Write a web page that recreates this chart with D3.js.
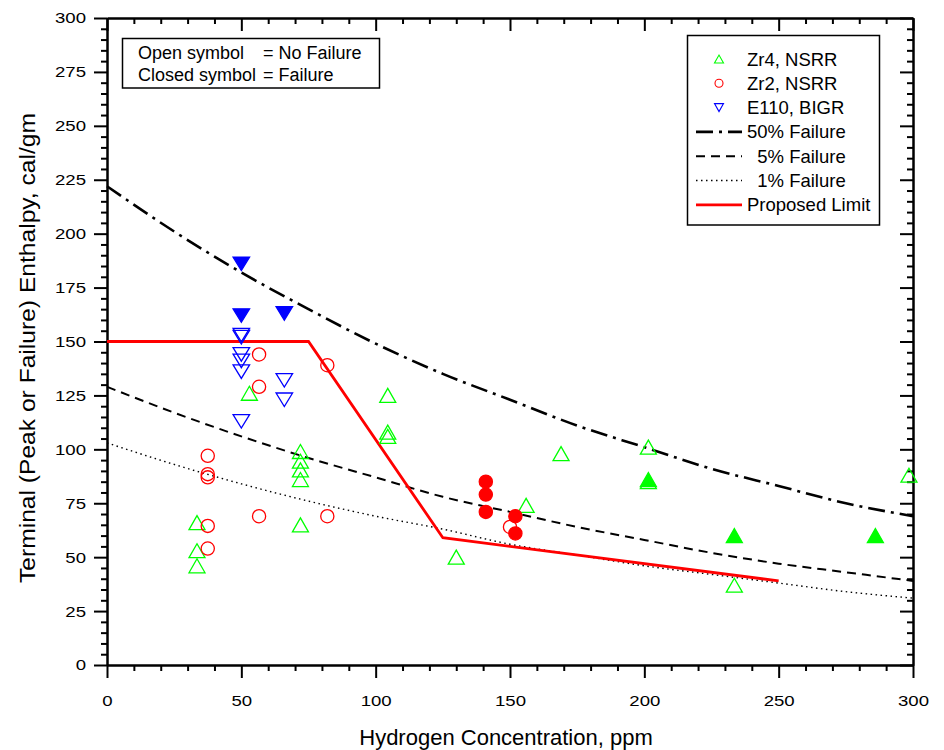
<!DOCTYPE html>
<html>
<head>
<meta charset="utf-8">
<script src="https://cdn.jsdelivr.net/npm/d3@7"></script>
<style>
  body { margin: 0; background: #fff; }
  svg { display: block; font-family: "Liberation Sans", Arial, sans-serif; }
</style>
</head>
<body>
<div id="chart"></div>
<script>
// failure curves, read every 25 ppm
const hydrogenGrid = [0, 25, 50, 75, 100, 125, 150, 175, 200, 225, 250, 275, 300];
const failure50 = [222, 201, 182, 165, 149, 135, 123, 111, 101, 91, 83, 75, 69];
const failure5  = [129, 117, 106, 96, 87, 78, 71, 64, 58, 52, 47, 43, 39];
const failure1  = [103, 93, 84, 76, 69, 63, 56, 51, 46, 42, 38, 34, 31];

// proposed limit
const limitH = [0, 75, 125, 250];
const limitEnthalpy = [150, 150, 59, 39];

// [hydrogen ppm, enthalpy cal/gm]
const zr4Open = [
  [33.5, 66], [33.5, 53], [33.5, 46], [53, 126],
  [72, 99], [72, 94.5], [72, 90.5], [72, 86], [72, 65],
  [104.5, 125], [104.5, 108], [104.5, 106], [130, 50], [156, 74],
  [169, 98], [201.5, 101], [201.5, 85], [233.5, 37], [298.5, 88]
];
const zr4Closed = [[201.5, 86], [233.5, 60], [286, 60]];
const zr2Open = [
  [37.5, 97], [37.5, 88.5], [37.5, 87], [37.5, 64.5], [37.5, 54],
  [56.6, 144], [56.6, 129], [56.6, 69], [82, 139], [82, 69], [150, 64]
];
const zr2Closed = [[141, 85], [141, 79], [141, 71], [152, 69], [152, 61]];
const e110Open = [
  [50, 153], [50, 152], [50, 144], [50, 141], [50, 136], [50, 113],
  [66, 132], [66, 123]
];
const e110Closed = [[50, 186], [50, 162], [66, 163]];

const xTicks = [0, 50, 100, 150, 200, 250, 300];
const yTicks = [0, 25, 50, 75, 100, 125, 150, 175, 200, 225, 250, 275, 300];

const width = 944;
const height = 750;
const plot = { left: 107, right: 913, top: 18, bottom: 665 };

const x = d3.scaleLinear().domain([0, 300]).range([plot.left, plot.right]);
const y = d3.scaleLinear().domain([0, 300]).range([plot.bottom, plot.top]);

const svg = d3.select("#chart")
  .append("svg")
  .attr("width", width)
  .attr("height", height)
  .attr("viewBox", [0, 0, width, height]);

const GREEN = "#00ff00", RED = "#ff0000", BLUE = "#0000ff";

const styles = {
  f50: { stroke: "#000", width: 2.6, dash: "17,6,3,6" },
  f5:  { stroke: "#000", width: 2, dash: "9,6" },
  f1:  { stroke: "#000", width: 1.4, dash: "1.5,3.5" },
  limit: { stroke: RED, width: 2.8, dash: null }
};

// ---- axes ----
const xMinor = d3.range(0, 301, 10).filter(v => v % 50 !== 0);
const yMinor = d3.range(0, 301, 5).filter(v => v % 25 !== 0);

function styleAxis(g) {
  g.select(".domain").attr("stroke-width", 2);
  g.selectAll(".tick line").attr("stroke-width", 2);
}

// bottom
svg.append("g")
  .attr("transform", `translate(0,${plot.bottom})`)
  .call(d3.axisBottom(x).tickValues(xMinor).tickSize(6).tickSizeOuter(0).tickFormat(""))
  .call(styleAxis);
const xAxis = svg.append("g")
  .attr("transform", `translate(0,${plot.bottom})`)
  .call(d3.axisBottom(x).tickValues(xTicks).tickSize(13).tickSizeOuter(0).tickPadding(17))
  .call(styleAxis);
xAxis.selectAll("text")
  .attr("font-size", 15.5)
  .attr("fill", "#000")
  .attr("transform", "scale(1.2,1)");

// top (mirror, ticks inward)
svg.append("g")
  .attr("transform", `translate(0,${plot.top})`)
  .call(d3.axisBottom(x).tickValues(xMinor).tickSize(6).tickSizeOuter(0).tickFormat(""))
  .call(styleAxis);
svg.append("g")
  .attr("transform", `translate(0,${plot.top})`)
  .call(d3.axisBottom(x).tickValues(xTicks).tickSize(13).tickSizeOuter(0).tickFormat(""))
  .call(styleAxis);

// left
svg.append("g")
  .attr("transform", `translate(${plot.left},0)`)
  .call(d3.axisLeft(y).tickValues(yMinor).tickSize(6).tickSizeOuter(0).tickFormat(""))
  .call(styleAxis);
const yAxis = svg.append("g")
  .attr("transform", `translate(${plot.left},0)`)
  .call(d3.axisLeft(y).tickValues(yTicks).tickSize(13).tickSizeOuter(0).tickPadding(4.5))
  .call(styleAxis);
yAxis.selectAll("text")
  .attr("font-size", 15.5)
  .attr("fill", "#000")
  .attr("transform", "scale(1.2,1)");

// right (mirror, ticks inward)
svg.append("g")
  .attr("transform", `translate(${plot.right},0)`)
  .call(d3.axisLeft(y).tickValues(yMinor).tickSize(6).tickSizeOuter(0).tickFormat(""))
  .call(styleAxis);
svg.append("g")
  .attr("transform", `translate(${plot.right},0)`)
  .call(d3.axisLeft(y).tickValues(yTicks).tickSize(13).tickSizeOuter(0).tickFormat(""))
  .call(styleAxis);

// axis titles
svg.append("text")
  .attr("x", (plot.left + plot.right) / 2 - 4)
  .attr("y", 745)
  .attr("text-anchor", "middle")
  .attr("font-size", 22)
  .text("Hydrogen Concentration, ppm");

svg.append("text")
  .attr("transform", "translate(35,348) rotate(-90)")
  .attr("text-anchor", "middle")
  .attr("font-size", 21.5)
  .attr("textLength", 470)
  .attr("lengthAdjust", "spacingAndGlyphs")
  .text("Terminal (Peak or Failure) Enthalpy, cal/gm");

// ---- curves ----
const curveLine = d3.line()
  .x(d => x(d[0]))
  .y(d => y(d[1]));

function drawCurve(hs, vs, st, curve) {
  const pts = hs.map((h, i) => [h, vs[i]]);
  svg.append("path")
    .attr("fill", "none")
    .attr("stroke", st.stroke)
    .attr("stroke-width", st.width)
    .attr("stroke-dasharray", st.dash)
    .attr("d", curveLine.curve(curve)(pts));
}

drawCurve(hydrogenGrid, failure1, styles.f1, d3.curveMonotoneX);
drawCurve(hydrogenGrid, failure5, styles.f5, d3.curveMonotoneX);
drawCurve(hydrogenGrid, failure50, styles.f50, d3.curveMonotoneX);
drawCurve(limitH, limitEnthalpy, styles.limit, d3.curveLinear);

// ---- markers ----
const triUp = (w, h) => `M${-w / 2},${h / 2}L${w / 2},${h / 2}L0,${-h / 2}Z`;
const triDown = (w, h) => `M${-w / 2},${-h / 2}L${w / 2},${-h / 2}L0,${h / 2}Z`;

function drawPaths(data, path, color, filled) {
  svg.append("g")
    .selectAll("path")
    .data(data)
    .join("path")
    .attr("transform", d => `translate(${x(d[0])},${y(d[1])})`)
    .attr("d", path)
    .attr("fill", filled ? color : "none")
    .attr("stroke", color)
    .attr("stroke-width", 1.3);
}

function drawCircles(data, color, filled) {
  svg.append("g")
    .selectAll("circle")
    .data(data)
    .join("circle")
    .attr("cx", d => x(d[0]))
    .attr("cy", d => y(d[1]))
    .attr("r", 6.6)
    .attr("fill", filled ? color : "none")
    .attr("stroke", color)
    .attr("stroke-width", 1.3);
}

drawPaths(zr4Open, triUp(16, 14), GREEN, false);
drawPaths(zr4Closed, triUp(16, 14), GREEN, true);
drawCircles(zr2Open, RED, false);
drawCircles(zr2Closed, RED, true);
drawPaths(e110Open, triDown(16.5, 13.5), BLUE, false);
drawPaths(e110Closed, triDown(16.5, 13.5), BLUE, true);

// ---- note box ----
const note = svg.append("g");
note.append("rect")
  .attr("x", 122.5).attr("y", 38.5)
  .attr("width", 257).attr("height", 49.5)
  .attr("fill", "#fff")
  .attr("stroke", "#000")
  .attr("stroke-width", 1.5);
[["Open symbol", "= No Failure", 58.5], ["Closed symbol", "= Failure", 81]].forEach(([a, b, ty]) => {
  note.append("text").attr("x", 138).attr("y", ty).attr("font-size", 18).text(a);
  note.append("text").attr("x", 263).attr("y", ty).attr("font-size", 18).text(b);
});

// ---- legend ----
const legendItems = [
  { label: "Zr4, NSRR", type: "up" },
  { label: "Zr2, NSRR", type: "circle" },
  { label: "E110, BIGR", type: "down" },
  { label: "50% Failure", type: "f50" },
  { label: "  5% Failure", type: "f5" },
  { label: "  1% Failure", type: "f1" },
  { label: "Proposed Limit", type: "limit" }
];

const legend = svg.append("g");
legend.append("rect")
  .attr("x", 687.5).attr("y", 35.5)
  .attr("width", 192).attr("height", 189.5)
  .attr("fill", "#fff")
  .attr("stroke", "#000")
  .attr("stroke-width", 1.5);

legendItems.forEach((item, i) => {
  const cy = 59 + i * 24.3;
  const row = legend.append("g");
  if (item.type === "up") {
    row.append("path").attr("transform", `translate(719,${cy})`).attr("d", triUp(9, 8))
      .attr("fill", "none").attr("stroke", GREEN).attr("stroke-width", 1.1);
  } else if (item.type === "circle") {
    row.append("circle").attr("cx", 719).attr("cy", cy).attr("r", 4)
      .attr("fill", "none").attr("stroke", RED).attr("stroke-width", 1.1);
  } else if (item.type === "down") {
    row.append("path").attr("transform", `translate(719,${cy})`).attr("d", triDown(9, 8))
      .attr("fill", "none").attr("stroke", BLUE).attr("stroke-width", 1.1);
  } else {
    const st = styles[item.type];
    row.append("line")
      .attr("x1", 696).attr("x2", 742)
      .attr("y1", cy).attr("y2", cy)
      .attr("stroke", st.stroke)
      .attr("stroke-width", st.width)
      .attr("stroke-dasharray", st.dash);
  }
  row.append("text")
    .attr("x", 747)
    .attr("y", cy + 6.5)
    .attr("font-size", 18.5)
    .style("white-space", "pre")
    .text(item.label);
});
</script>
</body>
</html>
